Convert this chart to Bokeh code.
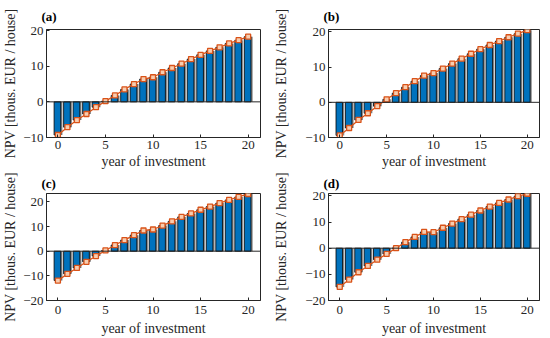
from bokeh.plotting import figure
from bokeh.layouts import gridplot
from bokeh.models import ColumnDataSource, Range1d, FixedTicker, Span
from bokeh.transform import dodge
from bokeh.embed import file_html
from bokeh.resources import INLINE

years = list(range(21))
npv_a = [-9.3, -7.1, -5.1, -3.4, -1.5, 0.2, 1.8, 3.5, 5.0, 6.4, 6.9, 8.3, 9.5,
         10.7, 12.0, 13.2, 14.3, 15.3, 16.4, 17.3, 18.3]
npv_b = [-9.4, -7.3, -5.0, -3.1, -1.1, 0.85, 2.6, 4.3, 6.0, 7.6, 8.3, 9.6, 11.0,
         12.4, 13.8, 15.1, 16.3, 17.4, 18.5, 19.5, 20.5]
npv_c = [-11.9, -9.2, -6.8, -4.3, -2.0, 0.3, 2.5, 4.5, 6.5, 8.4, 8.8, 10.4, 12.1,
         13.9, 15.3, 16.8, 18.1, 19.5, 20.8, 22.0, 23.2]
npv_d = [-14.8, -12.0, -9.2, -6.8, -4.4, -2.2, 0.0, 2.3, 4.3, 6.2, 6.1, 7.8, 9.4,
         11.1, 12.8, 14.4, 15.9, 17.3, 18.6, 19.9, 20.8]

x_ticks = [0, 5, 10, 15, 20]
y_ticks_ab = [-10, 0, 10, 20]
y_ticks_cd = [-20, -10, 0, 10, 20]
y_lims = [(-10, 20.3), (-10, 20.7), (-20, 23.4), (-20, 20.9)]
panel_labels = ["(a)", "(b)", "(c)", "(d)"]
x_label = "year of investment"
y_label = "NPV [thous. EUR / house]"
tick_overrides = {-10: "\u221210", -20: "\u221220"}

FONT = "Liberation Serif"
AX = "#262626"
BLUE = "#0072BD"
GRAY = "#8f8f8f"
ORANGE = "#D95319"


def style_axis(ax):
    ax.major_tick_in = 3
    ax.major_tick_out = 0
    ax.minor_tick_line_color = None
    ax.axis_line_color = AX
    ax.major_tick_line_color = AX
    ax.major_label_text_font = FONT
    ax.major_label_text_color = AX
    ax.major_label_overrides = tick_overrides
    ax.major_label_text_font_size = "13px"
    ax.major_label_standoff = 3
    ax.axis_label_text_font = FONT
    ax.axis_label_text_font_size = "14px"
    ax.axis_label_text_font_style = "normal"
    ax.axis_label_text_color = AX


def make_panel(vals, ylim, yticks, label, col, row):
    if col == 0:
        mbl, mbr, fw = 42, 11, 214
        ylab_standoff = 2
    else:
        mbl, mbr, fw = 55, 1, 211
        ylab_standoff = 13
    if row == 0:
        mbt, fh, mbb = 29, 108, 32
        tick_so, lab_so = 3, 2
    else:
        mbt, fh, mbb = 22, 107, 36
        tick_so, lab_so = 5, 4
    p = figure(frame_width=fw, frame_height=fh, output_backend="svg",
               toolbar_location=None,
               x_range=Range1d(-1.2, 21.3), y_range=Range1d(*ylim),
               min_border_left=mbl, min_border_right=mbr,
               min_border_top=mbt, min_border_bottom=mbb)
    p.xgrid.visible = False
    p.ygrid.visible = False
    p.outline_line_color = AX
    p.outline_line_width = 1
    p.background_fill_color = "white"
    p.border_fill_color = "white"

    p.xaxis.ticker = FixedTicker(ticks=x_ticks)
    p.yaxis.ticker = FixedTicker(ticks=yticks)
    p.xaxis.axis_label = x_label
    p.yaxis.axis_label = y_label
    style_axis(p.xaxis[0])
    style_axis(p.yaxis[0])
    p.xaxis.major_label_standoff = tick_so
    p.xaxis.axis_label_standoff = lab_so
    p.yaxis.axis_label_standoff = ylab_standoff

    src = ColumnDataSource(dict(x=years, v=vals))
    p.vbar(x=dodge("x", 0.14, range=p.x_range), top="v", bottom=0, width=0.68,
           source=src, fill_color=GRAY, line_color=None)
    p.vbar(x=dodge("x", -0.05, range=p.x_range), top="v", bottom=0, width=0.7,
           source=src, fill_color=BLUE, line_color="black", line_width=0.8)
    p.add_layout(Span(location=0, dimension="width", line_color=AX, line_width=1))
    p.line("x", "v", source=src, line_color=ORANGE, line_width=1.3)
    p.scatter("x", "v", source=src, marker="square", size=5, line_color=ORANGE,
              fill_color="#f7cdb0", line_width=1.3)

    p.title.text = label
    p.title.text_font = FONT
    p.title.text_font_size = "13px"
    p.title.text_font_style = "bold"
    p.title.text_color = "black"
    p.title.text_line_height = 1.0
    p.title.align = "left"
    p.title.offset = -5
    p.title.standoff = 12 if row == 0 else 5
    return p


vals_all = [npv_a, npv_b, npv_c, npv_d]
ticks_all = [y_ticks_ab, y_ticks_ab, y_ticks_cd, y_ticks_cd]
panels = [make_panel(vals_all[i], y_lims[i], ticks_all[i], panel_labels[i], i % 2, i // 2)
          for i in range(4)]

grid = gridplot([[panels[0], panels[1]], [panels[2], panels[3]]],
                toolbar_location=None)

open("out.html", "w").write(file_html(grid, INLINE))
